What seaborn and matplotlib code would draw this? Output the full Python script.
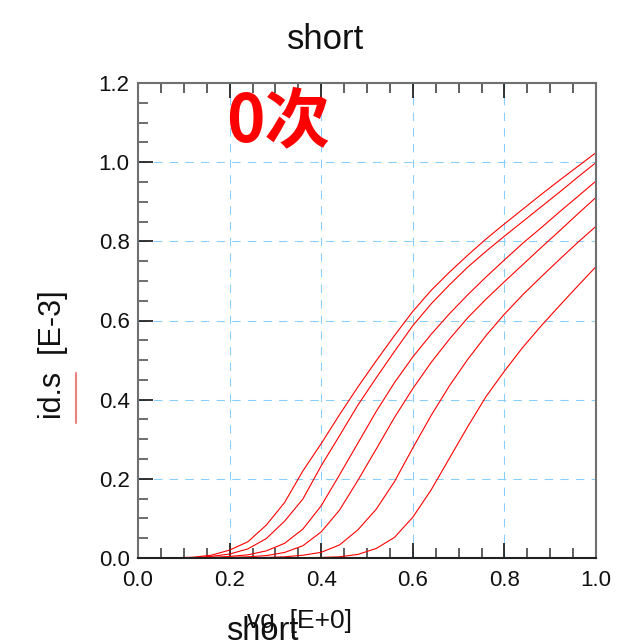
import numpy as np
import pandas as pd
import matplotlib
matplotlib.use("Agg")
import matplotlib.pyplot as plt
from matplotlib.lines import Line2D
from matplotlib.ticker import MultipleLocator, FormatStrFormatter
import seaborn as sns

# ---- data ----
vg = [0.00, 0.04, 0.08, 0.12, 0.16, 0.20, 0.24, 0.28, 0.32, 0.36, 0.40, 0.44, 0.48,
      0.52, 0.56, 0.60, 0.64, 0.68, 0.72, 0.76, 0.80, 0.84, 0.88, 0.92, 0.96, 1.00]
curve1 = [0, 0, 0.0005, 0.002, 0.007, 0.020, 0.041, 0.083, 0.140, 0.220, 0.289, 0.362, 0.432,
          0.498, 0.562, 0.623, 0.676, 0.722, 0.765, 0.806, 0.844, 0.881, 0.918, 0.954, 0.989, 1.024]
curve2 = [0, 0, 0.0002, 0.001, 0.004, 0.010, 0.023, 0.049, 0.093, 0.149, 0.233, 0.309, 0.386,
          0.455, 0.522, 0.587, 0.642, 0.690, 0.735, 0.775, 0.813, 0.850, 0.887, 0.924, 0.962, 0.999]
curve3 = [0, 0, 0, 0.0005, 0.0015, 0.004, 0.008, 0.018, 0.037, 0.073, 0.132, 0.210, 0.290,
          0.370, 0.443, 0.508, 0.565, 0.617, 0.665, 0.710, 0.753, 0.795, 0.834, 0.874, 0.913, 0.9525]
curve4 = [0, 0, 0, 0, 0.0005, 0.0015, 0.003, 0.006, 0.014, 0.031, 0.066, 0.121, 0.196,
          0.275, 0.355, 0.428, 0.494, 0.553, 0.607, 0.654, 0.698, 0.741, 0.784, 0.826, 0.869, 0.911]
curve5 = [0, 0, 0, 0, 0, 0.0003, 0.0007, 0.0015, 0.003, 0.007, 0.0144, 0.033, 0.071,
          0.123, 0.193, 0.278, 0.360, 0.435, 0.502, 0.562, 0.616, 0.665, 0.710, 0.754, 0.797, 0.838]
curve6 = [0, 0, 0, 0, 0, 0, 0, 0.0003, 0.0005, 0.0007, 0.0015, 0.003, 0.009,
          0.024, 0.052, 0.103, 0.172, 0.252, 0.332, 0.408, 0.472, 0.532, 0.586, 0.637, 0.687, 0.736]
curve_names = ["c1", "c2", "c3", "c4", "c5", "c6"]
xticks = [0.0, 0.2, 0.4, 0.6, 0.8, 1.0]
yticks = [0.0, 0.2, 0.4, 0.6, 0.8, 1.0, 1.2]

frames = []
for name, vals in zip(curve_names, [curve1, curve2, curve3, curve4, curve5, curve6]):
    frames.append(pd.DataFrame({"vg": vg, "id": vals, "curve": name}))
df = pd.concat(frames, ignore_index=True)

sns.set_style("white")
plt.rcParams["font.family"] = ["Liberation Sans", "Noto Sans CJK SC", "DejaVu Sans"]

W, H = 617, 641
fig = plt.figure(figsize=(W / 100, H / 100), dpi=100)
L, R, T, B = 138, 596, 83, 558
ax = fig.add_axes([L / W, 1 - B / H, (R - L) / W, (B - T) / H])

sns.lineplot(data=df, x="vg", y="id", hue="curve",
             palette=["#ff0000"] * 6, linewidth=0.8, legend=False, ax=ax,
             estimator=None, sort=False)

ax.set_xlim(0, 1.0)
ax.set_ylim(0, 1.2)
ax.set_xticks(xticks)
ax.set_yticks(yticks)
ax.xaxis.set_major_formatter(FormatStrFormatter("%.1f"))
ax.yaxis.set_major_formatter(FormatStrFormatter("%.1f"))
ax.xaxis.set_minor_locator(MultipleLocator(0.05))
ax.yaxis.set_minor_locator(MultipleLocator(0.05))
ax.set_xlabel("")
ax.set_ylabel("")

ax.grid(True, which="major", color="#87CEFA", linestyle=(0, (8, 7)), linewidth=0.75)
ax.set_axisbelow(True)

for side in ["top", "left", "right"]:
    ax.spines[side].set_color("#707070")
    ax.spines[side].set_linewidth(1.5)
ax.spines["bottom"].set_color("#222222")
ax.spines["bottom"].set_linewidth(1.5)

ax.tick_params(axis="x", which="major", direction="in", length=11, width=1.2,
               color="#111111", top=True, bottom=True, labelsize=16, pad=9,
               labelcolor="#111111")
ax.tick_params(axis="x", which="minor", direction="in", length=7.5, width=1.2,
               color="#444444", top=True, bottom=True)
ax.tick_params(axis="y", which="major", direction="in", length=11, width=1.2,
               color="#111111", left=True, right=False, labelsize=16, pad=6,
               labelcolor="#111111")
ax.tick_params(axis="y", which="minor", direction="in", length=7.5, width=1.2,
               color="#555555", left=True, right=False)

# titles / labels
fig.text(325.5 / W, 1 - 49 / H, "short", ha="center", va="baseline",
         fontsize=25, color="#111111")
fig.text(278 / W, 1 - 122 / H, "0次", ha="center", va="center", fontsize=47,
         fontweight="bold", color="#ff0000",
         family=["Noto Sans CJK SC", "DejaVu Sans"])
fig.text(53 / W, 1 - 355 / H, "id.s  [E-3]", rotation=90, ha="center", va="center",
         fontsize=22, color="#111111")
fig.add_artist(Line2D([75.7 / W, 75.7 / W], [1 - 373 / H, 1 - 423 / H],
                      color="#f08080", linewidth=1.5, transform=fig.transFigure))
fig.text(247 / W, 1 - 628 / H, "vg  [E+0]", ha="left", va="baseline",
         fontsize=19, color="#111111")
fig.text(262 / W, 1 - 640 / H, "short", ha="center", va="baseline",
         fontsize=23.5, color="#111111")

fig.savefig("out.png", dpi=100)
